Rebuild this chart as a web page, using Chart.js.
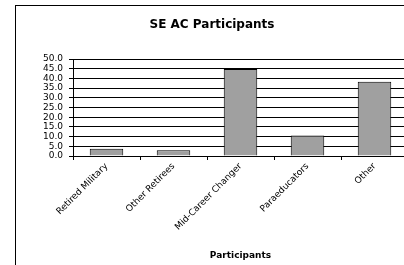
<!DOCTYPE html>
<html lang="en">
<head>
  <meta charset="UTF-8">
  <title>SE AC Participants</title>
  <style>
    html, body { margin: 0; padding: 0; overflow: hidden; background: #fff; }
    #box { position: absolute; left: 15px; top: 5px; width: 400px; height: 262px;
           border-left: 1px solid #000; border-top: 1px solid #000; }
    #box canvas { display: block; }
  </style>
</head>
<body>
  <div id="box"><canvas id="myChart" width="399" height="261"></canvas></div>
  <script src="https://cdn.jsdelivr.net/npm/chart.js"></script>
  <script>
    const categories = ['Retired Military', 'Other Retirees', 'Mid-Career Changer', 'Paraeducators', 'Other']
    const values = [3.8, 2.9, 44.8, 10.6, 38.3]
    const yTicks = [0, 5, 10, 15, 20, 25, 30, 35, 40, 45, 50]

    const font = 'DejaVu Sans'
    const ctx = document.getElementById('myChart')

    new Chart(ctx, {
      type: 'bar',
      data: {
        labels: categories,
        datasets: [{
          data: values,
          backgroundColor: '#a0a0a0',
          borderColor: '#000',
          borderWidth: 1,
          categoryPercentage: 1,
          barPercentage: 0.5
        }]
      },
      options: {
        responsive: false,
        animation: false,
        layout: { padding: { left: 0, right: 7, top: 0, bottom: 0 } },
        plugins: {
          legend: { display: false },
          tooltip: { enabled: false },
          title: {
            display: true,
            text: 'SE AC Participants',
            color: '#000',
            font: { family: font, size: 12, weight: 'bold' },
            padding: { top: 12, bottom: 26.6 }
          }
        },
        scales: {
          x: {
            afterFit: s => { s.height = 111 },
            grid: { offset: true, drawOnChartArea: false, color: '#000', tickLength: 4, tickColor: '#000' },
            border: { color: '#000' },
            ticks: {
              color: '#000', font: { family: font, size: 9 },
              minRotation: 45, maxRotation: 45, padding: 1
            },
            title: {
              display: true, text: 'Participants', color: '#000',
              font: { family: font, size: 9, weight: 'bold' },
              padding: { top: 0, bottom: 6 }
            }
          },
          y: {
            min: 0, max: 50,
            afterFit: s => { s.width = 57 },
            afterBuildTicks: s => { s.ticks = yTicks.map(v => ({ value: v })) },
            grid: { color: '#000', tickLength: 4, tickColor: '#000' },
            border: { color: '#000' },
            ticks: {
              autoSkip: false,
              color: '#000', font: { family: font, size: 9 }, padding: 6,
              callback: v => Number(v).toFixed(1)
            }
          }
        }
      }
    })
  </script>
</body>
</html>
